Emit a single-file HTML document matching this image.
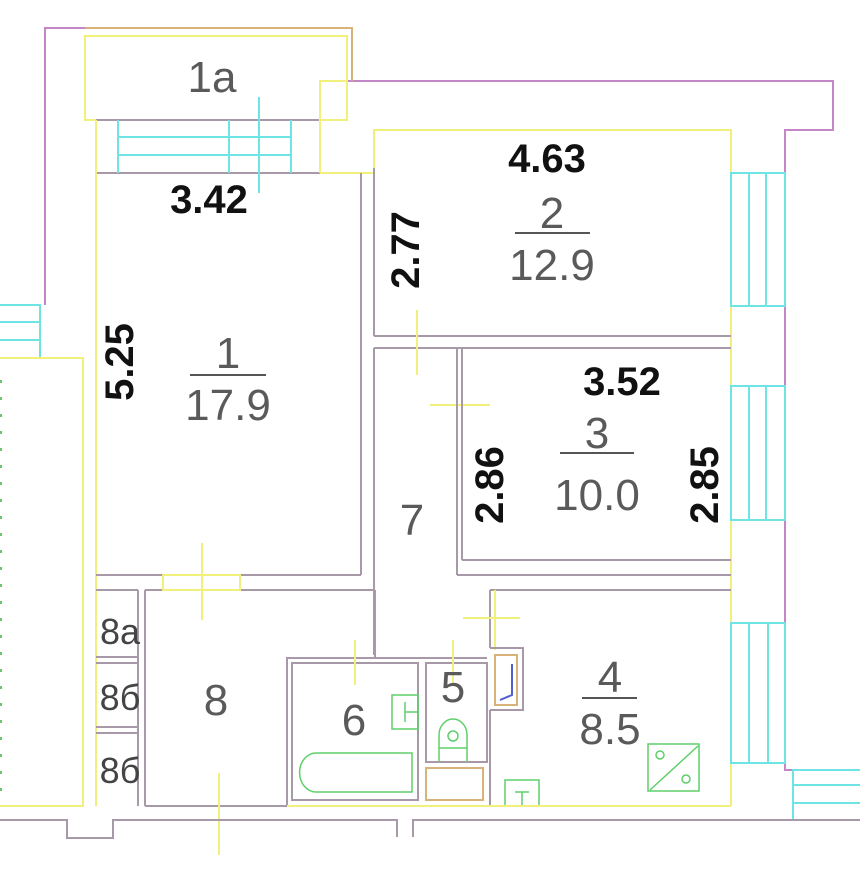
<!DOCTYPE html>
<html><head><meta charset="utf-8"><style>
html,body{margin:0;padding:0;background:#fff;}
svg{display:block;}
.g{stroke:#a899a8;stroke-width:2;fill:none}
.y{stroke:#f0f07a;stroke-width:2;fill:none}
.m{stroke:#c586c8;stroke-width:2;fill:none}
.c{stroke:#6ee4e4;stroke-width:2;fill:none}
.gr{stroke:#5fcf6a;stroke-width:1.5;fill:none}
.t{stroke:#d9b27a;stroke-width:2;fill:none}
.n{font-family:"Liberation Sans",sans-serif;fill:#5a5a5a;font-size:44px;text-anchor:middle}
.d{font-family:"Liberation Sans",sans-serif;fill:#111;font-size:40px;font-weight:bold;text-anchor:middle}
.s{font-family:"Liberation Sans",sans-serif;fill:#444;font-size:36px;text-anchor:middle}
</style></head><body>
<svg width="860" height="888" viewBox="0 0 860 888">
<polyline class="m" points="85,28 45,28 45,305"/>
<polyline class="m" points="347,81 833,81 833,130 785,130 785,770 793,770"/>
<polyline class="c" points="0,305 40,305 40,358"/>
<line class="c" x1="0" y1="322" x2="40" y2="322"/><line class="c" x1="0" y1="340" x2="40" y2="340"/>
<polyline class="y" points="0,358 83,358 83,806 0,806"/>
<line x1="1" y1="380" x2="1" y2="800" stroke="#6cc46c" stroke-width="2" stroke-dasharray="3,14"/>
<polyline class="t" points="85,28 352,28 352,81"/>
<rect class="y" x="85" y="36" width="262" height="84"/>
<line class="g" x1="96" y1="120" x2="320" y2="120"/>
<line class="g" x1="96" y1="173" x2="320" y2="173"/>
<line class="c" x1="118" y1="137" x2="291" y2="137"/><line class="c" x1="118" y1="155" x2="291" y2="155"/>
<line class="c" x1="118" y1="120" x2="118" y2="173"/><line class="c" x1="229" y1="120" x2="229" y2="173"/><line class="c" x1="291" y1="120" x2="291" y2="173"/>
<line class="c" x1="259" y1="97" x2="259" y2="193"/>
<polyline class="y" points="320,173 320,81 347,81"/>
<polyline class="y" points="320,173 374,173"/>
<line class="y" x1="96" y1="120" x2="96" y2="806"/>
<line class="g" x1="361" y1="173" x2="361" y2="575"/>
<line class="g" x1="96" y1="575" x2="163" y2="575"/><line class="g" x1="240" y1="575" x2="361" y2="575"/>
<line class="g" x1="145" y1="590" x2="163" y2="590"/><line class="g" x1="240" y1="590" x2="374" y2="590"/>
<rect class="y" x="163" y="575" width="77" height="15"/>
<line class="y" x1="202" y1="543" x2="202" y2="620"/>
<polyline class="y" points="374,168 374,130 731,130 731,806"/>
<line class="g" x1="374" y1="168" x2="374" y2="336"/>
<line class="g" x1="374" y1="336" x2="731" y2="336"/>
<line class="g" x1="374" y1="348" x2="731" y2="348"/>
<line class="y" x1="417" y1="310" x2="417" y2="375"/>
<line class="y" x1="430" y1="405" x2="490" y2="405"/>
<line class="g" x1="374" y1="348" x2="374" y2="655"/>
<line class="g" x1="457" y1="348" x2="457" y2="575"/>
<line class="g" x1="462" y1="348" x2="462" y2="560"/>
<line class="g" x1="462" y1="560" x2="731" y2="560"/>
<line class="g" x1="457" y1="575" x2="731" y2="575"/>
<line class="g" x1="490" y1="590" x2="731" y2="590"/>
<line class="g" x1="490" y1="590" x2="490" y2="648"/>
<line class="g" x1="490" y1="710" x2="490" y2="806"/>
<line class="y" x1="495" y1="590" x2="495" y2="650"/>
<line class="y" x1="463" y1="618" x2="520" y2="618"/>
<g class="c">
<rect x="731" y="173" width="54" height="133"/><line x1="749" y1="173" x2="749" y2="306"/><line x1="766" y1="173" x2="766" y2="306"/>
<rect x="731" y="386" width="54" height="134"/><line x1="749" y1="386" x2="749" y2="520"/><line x1="766" y1="386" x2="766" y2="520"/>
<rect x="731" y="623" width="54" height="140"/><line x1="749" y1="623" x2="749" y2="763"/><line x1="768" y1="623" x2="768" y2="763"/>
<polyline points="860,770 793,770 793,820"/><line x1="793" y1="785" x2="860" y2="785"/><line x1="793" y1="803" x2="860" y2="803"/>
</g>
<line class="g" x1="138" y1="590" x2="138" y2="806"/>
<line class="g" x1="145" y1="590" x2="145" y2="806"/>
<line class="g" x1="96" y1="590" x2="138" y2="590"/>
<line class="g" x1="96" y1="657" x2="138" y2="657"/><line class="g" x1="96" y1="663" x2="138" y2="663"/>
<line class="g" x1="96" y1="727" x2="138" y2="727"/><line class="g" x1="96" y1="733" x2="138" y2="733"/>
<line class="g" x1="145" y1="806" x2="287" y2="806"/>
<line class="y" x1="219" y1="773" x2="219" y2="855"/>
<polyline class="g" points="287,806 287,658 487,658"/>
<rect class="g" x="292" y="663" width="126" height="137"/>
<rect class="g" x="426" y="663" width="61" height="99"/>
<line class="g" x1="375" y1="658" x2="375" y2="590"/>
<rect class="t" x="426" y="768" width="57" height="32"/>
<path class="gr" d="M316,753 H412 V792 H316 A16,19 0 0 1 316,753 Z"/>
<rect class="gr" x="392" y="695" width="26" height="34"/><line class="gr" x1="405" y1="702" x2="405" y2="722"/><line class="gr" x1="405" y1="712" x2="418" y2="712"/>
<path class="gr" d="M439,762 V735 A14,16 0 0 1 467,735 V762 M439,748 H467"/><circle class="gr" cx="453" cy="736" r="5"/>
<line class="y" x1="355" y1="640" x2="355" y2="685"/>
<line class="y" x1="453" y1="640" x2="453" y2="685"/>
<path class="g" d="M490,648 H523 V710 H490"/>
<rect class="t" x="495" y="655" width="22" height="50"/>
<path d="M512,664 L512,695 L500,700" stroke="#5060d0" stroke-width="2" fill="none"/>
<rect class="gr" x="648" y="744" width="51" height="47"/><line class="gr" x1="650" y1="790" x2="698" y2="746"/>
<circle class="gr" cx="660" cy="755" r="4"/><circle class="gr" cx="686" cy="779" r="4"/>
<rect class="gr" x="505" y="780" width="34" height="26"/><line class="gr" x1="522" y1="792" x2="522" y2="806"/><line class="gr" x1="515" y1="792" x2="529" y2="792"/>
<line class="y" x1="287" y1="806" x2="731" y2="806"/>
<polyline class="g" points="0,820 67,820 67,838 113,838 113,820 397,820 397,837"/>
<polyline class="g" points="413,837 413,820 860,820"/>
<text class="n" x="212" y="92">1а</text>
<text class="d" x="209" y="213">3.42</text>
<text class="d" transform="translate(133,362) rotate(-90)">5.25</text>
<text class="n" x="228" y="368">1</text><line x1="190" y1="375" x2="266" y2="375" stroke="#555" stroke-width="2"/>
<text class="n" x="228" y="420">17.9</text>
<text class="d" x="547" y="172">4.63</text>
<text class="d" transform="translate(419,250) rotate(-90)">2.77</text>
<text class="n" x="552" y="228">2</text><line x1="515" y1="233" x2="590" y2="233" stroke="#555" stroke-width="2"/>
<text class="n" x="552" y="280">12.9</text>
<text class="d" x="622" y="395">3.52</text>
<text class="d" transform="translate(503,485) rotate(-90)">2.86</text>
<text class="d" transform="translate(718,485) rotate(-90)">2.85</text>
<text class="n" x="597" y="448">3</text><line x1="560" y1="453" x2="634" y2="453" stroke="#555" stroke-width="2"/>
<text class="n" x="597" y="510">10.0</text>
<text class="n" x="412" y="535">7</text>
<text class="s" x="120" y="644">8а</text>
<text class="s" x="120" y="710">8б</text>
<text class="s" x="120" y="783">8б</text>
<text class="n" x="216" y="715">8</text>
<text class="n" x="354" y="735">6</text>
<text class="n" x="453" y="702">5</text>
<text class="n" x="610" y="692">4</text><line x1="582" y1="698" x2="637" y2="698" stroke="#555" stroke-width="2"/>
<text class="n" x="610" y="744">8.5</text>
</svg>
</body></html>
